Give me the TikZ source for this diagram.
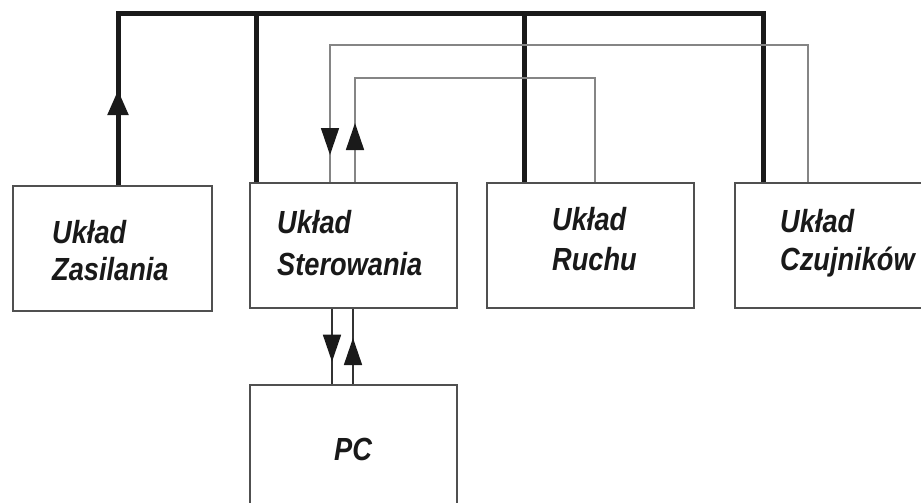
\documentclass[tikz,border=0pt]{standalone}
\usepackage{fontspec}
\newfontfamily\labfont[FakeStretch=0.85]{Liberation Sans}
\usetikzlibrary{arrows.meta,decorations.markings,calc}
\definecolor{boxgray}{HTML}{505050}
\definecolor{wiregray}{HTML}{858585}
\definecolor{busblack}{HTML}{1A1A1A}
\begin{document}
\begin{tikzpicture}[x=1pt,y=-1pt,
  box/.style={draw=boxgray, line width=1.7pt, rectangle, anchor=north west, inner sep=0pt},
  lab/.style={anchor=base west, inner sep=0pt, text=black!90,
    font={\labfont\fontsize{32}{40}\selectfont\bfseries\itshape}},
  bus/.style={draw=busblack, line width=5pt, line join=miter},
  wire/.style={draw=wiregray, line width=1.6pt},
  pcwire/.style={draw=black!80, line width=1.6pt},
  tipmark/.style={postaction={decorate}, decoration={markings,
    mark=at position #1 with {\arrow[busblack]{Triangle[length=27pt,width=18pt]}}}},
  bustip/.style={postaction={decorate}, decoration={markings,
    mark=at position #1 with {\arrow[busblack]{Triangle[length=25pt,width=20pt]}}}},
]
\clip (0,0) rectangle (921,503);
\fill[white] (0,0) rectangle (921,503);

% boxes
\node[box, minimum width=199pt, minimum height=125pt] (zas) at (12,185) {};
\node[box, minimum width=207pt, minimum height=125pt] (ste) at (249,182) {};
\node[box, minimum width=207pt, minimum height=125pt] (ruc) at (486,182) {};
\node[box, minimum width=220pt, minimum height=125pt] (czu) at (734,182) {};
\node[box, minimum width=207pt, minimum height=150pt] (pc)  at (249,384) {};

% labels
\node[lab] (zas1) at (52,243) {Układ};
\node[lab] (zas2) at (52,280) {Zasilania};
\node[lab] (ste1) at (277,233) {Układ};
\node[lab] (ste2) at (277,275) {Sterowania};
\node[lab] (ruc1) at (552,230) {Układ};
\node[lab] (ruc2) at (552,270) {Ruchu};
\node[lab] (czu1) at (780,232) {Układ};
\node[lab] (czu2) at (780,270) {Czujników};
\node[lab, anchor=base] (pc1) at (353,460) {PC};

% bus coordinates
\coordinate (b1) at (118,14);
\coordinate (b2) at (256,14);
\coordinate (b3) at (524,14);
\coordinate (b4) at (763,14);

% thick bus
\draw[bus, bustip=95pt] (b1 |- zas.north) -- (b1) -- (b4) -- (b4 |- czu.north);
\draw[bus] (b2) -- (b2 |- ste.north);
\draw[bus] (b3) -- (b3 |- ruc.north);

% thin wires
\coordinate (wa) at (330,45);
\coordinate (wa2) at (808,45);
\coordinate (wb) at (355,78);
\coordinate (wb2) at (595,78);
\draw[wire, tipmark=725pt] (wa2 |- czu.north) -- (wa2) -- (wa) -- (wa |- ste.north);
\draw[wire, tipmark=59pt] (wb |- ste.north) -- (wb) -- (wb2) -- (wb2 |- ruc.north);

% Sterowania <-> PC
\coordinate (pa) at (332,0);
\coordinate (pb) at (353,0);
\draw[pcwire, tipmark=53pt] (pa |- ste.south) -- (pa |- pc.north);
\draw[pcwire, tipmark=46pt] (pb |- pc.north) -- (pb |- ste.south);
\end{tikzpicture}
\end{document}
